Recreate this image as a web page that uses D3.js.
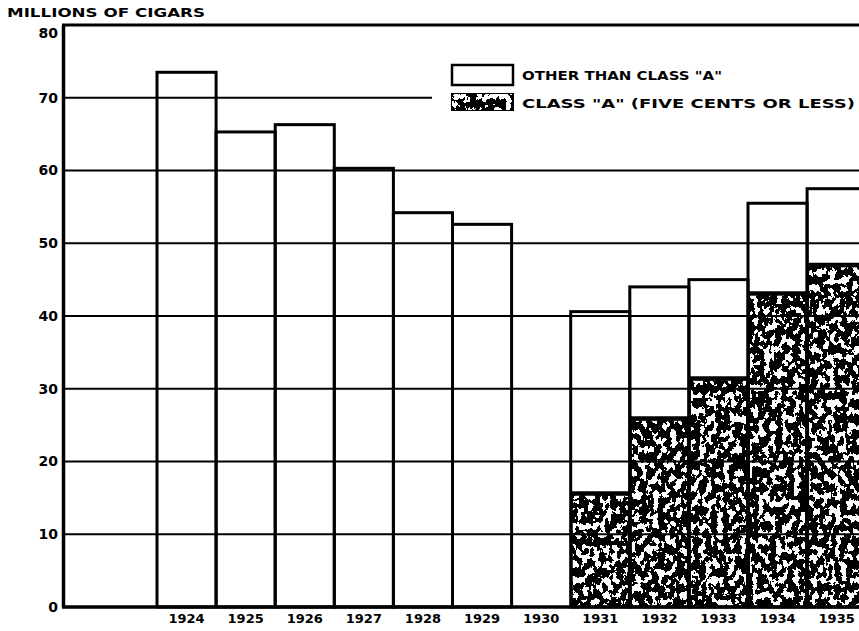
<!DOCTYPE html>
<html><head><meta charset="utf-8">
<script src="https://cdn.jsdelivr.net/npm/d3@7"></script>
<style>
html,body{margin:0;padding:0;background:#fff;}
svg{display:block;}
text{font-family:"DejaVu Sans",sans-serif;font-weight:bold;fill:#000;}
</style></head>
<body>
<script>
// ---- data ----
const years = ["1924","1925","1926","1927","1928","1929","1930","1931","1932","1933","1934","1935"];
const totalCigars = [73.5, 65.3, 66.3, 60.3, 54.2, 52.6, null, 40.6, 44.0, 45.0, 55.5, 57.5];
const classA = [0, 0, 0, 0, 0, 0, null, 15.7, 26.0, 31.5, 43.2, 47.1];
const yTicks = [0, 10, 20, 30, 40, 50, 60, 70, 80];
const yTickLabels = ["0", "10", "20", "30", "40", "50", "60", "70", "80"];
const yTitle = "MILLIONS  OF  CIGARS";
const legendLabels = ["OTHER  THAN  CLASS \"A\"", "CLASS \"A\" (FIVE CENTS OR LESS)"];

const W = 859, H = 631;
const svg = d3.select("body").append("svg").attr("width", W).attr("height", H);

const defs = svg.append("defs");
const f = defs.append("filter").attr("id", "speck")
  .attr("filterUnits", "userSpaceOnUse").attr("x", 0).attr("y", 0).attr("width", W).attr("height", H)
  .attr("color-interpolation-filters", "sRGB");
f.append("feTurbulence").attr("type", "fractalNoise").attr("baseFrequency", "0.17 0.13").attr("numOctaves", 3).attr("seed", 11).attr("result", "n");
f.append("feColorMatrix").attr("in", "n").attr("type", "matrix")
  .attr("values", "0 0 0 0 1  0 0 0 0 1  0 0 0 0 1  1 0 0 0 0").attr("result", "a");
const ct = f.append("feComponentTransfer").attr("in", "a").attr("result", "b");
ct.append("feFuncA").attr("type", "discrete").attr("tableValues", "0 0 0 0 0 0 1 1 1 1 1");
f.append("feComposite").attr("in", "b").attr("in2", "SourceGraphic").attr("operator", "in");

const x = d3.scaleBand().domain(years).range([157, 157 + 12 * 59.1]).padding(0);
const y = d3.scaleLinear().domain([0, 80]).range([607, 25]);
const left = 63, right = W + 5;

const data = years.map((yr, i) => ({ yr, total: totalCigars[i], a: classA[i] }));
const valid = data.filter(d => d.total != null);

// bars: total (white)
svg.append("g").selectAll("rect").data(valid).join("rect")
  .attr("x", d => x(d.yr)).attr("width", x.bandwidth())
  .attr("y", d => y(d.total)).attr("height", d => y(0) - y(d.total))
  .attr("fill", "#fff");

// class A (dark + specks)
const aBars = valid.filter(d => d.a > 0);
svg.append("g").selectAll("rect").data(aBars).join("rect")
  .attr("x", d => x(d.yr)).attr("width", x.bandwidth())
  .attr("y", d => y(d.a)).attr("height", d => y(0) - y(d.a))
  .attr("fill", "#000");
svg.append("g").selectAll("rect").data(aBars).join("rect")
  .attr("x", d => x(d.yr) + 2).attr("width", x.bandwidth() - 4)
  .attr("y", d => y(d.a) + 3).attr("height", d => y(0) - y(d.a) - 3)
  .attr("fill", "#fff").attr("filter", "url(#speck)");

// gridlines
const grid = svg.append("g");
grid.selectAll("line").data(yTicks.filter(t => t > 0 && t < 80)).join("line")
  .attr("x1", left).attr("x2", t => t === 70 ? 432 : right)
  .attr("y1", t => y(t)).attr("y2", t => y(t))
  .attr("stroke", "#000").attr("stroke-width", 2);

// bar outlines
svg.append("g").selectAll("rect").data(valid).join("rect")
  .attr("x", d => x(d.yr)).attr("width", x.bandwidth())
  .attr("y", d => y(d.total)).attr("height", d => y(0) - y(d.total))
  .attr("fill", "none").attr("stroke", "#000").attr("stroke-width", 3);
svg.append("g").selectAll("line").data(aBars).join("line")
  .attr("x1", d => x(d.yr)).attr("x2", d => x(d.yr) + x.bandwidth())
  .attr("y1", d => y(d.a)).attr("y2", d => y(d.a))
  .attr("stroke", "#000").attr("stroke-width", 3);

// frame
svg.append("line").attr("x1", left - 1).attr("x2", right).attr("y1", y(80)).attr("y2", y(80)).attr("stroke", "#000").attr("stroke-width", 3);
svg.append("line").attr("x1", left - 1).attr("x2", right).attr("y1", y(0)).attr("y2", y(0)).attr("stroke", "#000").attr("stroke-width", 3.5);

// y axis
const yAxis = d3.axisLeft(y).tickValues(yTicks).tickFormat((d, i) => yTickLabels[i]).tickSize(0).tickPadding(5);
const ya = svg.append("g").attr("transform", `translate(${left},0)`).call(yAxis);
ya.select(".domain").attr("stroke", "#000").attr("stroke-width", 3.5);
ya.selectAll("text").attr("font-size", 14).attr("font-family", "\"DejaVu Sans\",sans-serif").attr("font-weight", "bold").attr("fill", "#000");
ya.selectAll(".tick").filter(d => d === 80).select("text").attr("dy", "0.9em");

// x axis
const xAxis = d3.axisBottom(x).tickSize(0).tickPadding(7);
const xa = svg.append("g").attr("transform", `translate(0,${y(0)})`).call(xAxis);
xa.select(".domain").remove();
xa.selectAll("text").attr("font-size", 13).attr("font-family", "\"DejaVu Sans\",sans-serif").attr("font-weight", "bold").attr("fill", "#000");

// y title
svg.append("text").attr("x", 7).attr("y", 17).attr("font-size", 12)
  .attr("textLength", 198).attr("lengthAdjust", "spacingAndGlyphs").text(yTitle);

// legend
const lg = svg.append("g");
lg.append("rect").attr("x", 452).attr("y", 65).attr("width", 61).attr("height", 20)
  .attr("fill", "#fff").attr("stroke", "#000").attr("stroke-width", 2.5);
lg.append("rect").attr("x", 451).attr("y", 93).attr("width", 63).attr("height", 18).attr("fill", "#000");
lg.append("rect").attr("x", 452).attr("y", 94).attr("width", 61).attr("height", 16).attr("fill", "#fff").attr("filter", "url(#speck)");
lg.append("text").attr("x", 522).attr("y", 80).attr("font-size", 13)
  .attr("textLength", 200).attr("lengthAdjust", "spacingAndGlyphs").text(legendLabels[0]);
lg.append("text").attr("x", 522).attr("y", 108).attr("font-size", 13)
  .attr("textLength", 333).attr("lengthAdjust", "spacingAndGlyphs").text(legendLabels[1]);
</script>
</body></html>
